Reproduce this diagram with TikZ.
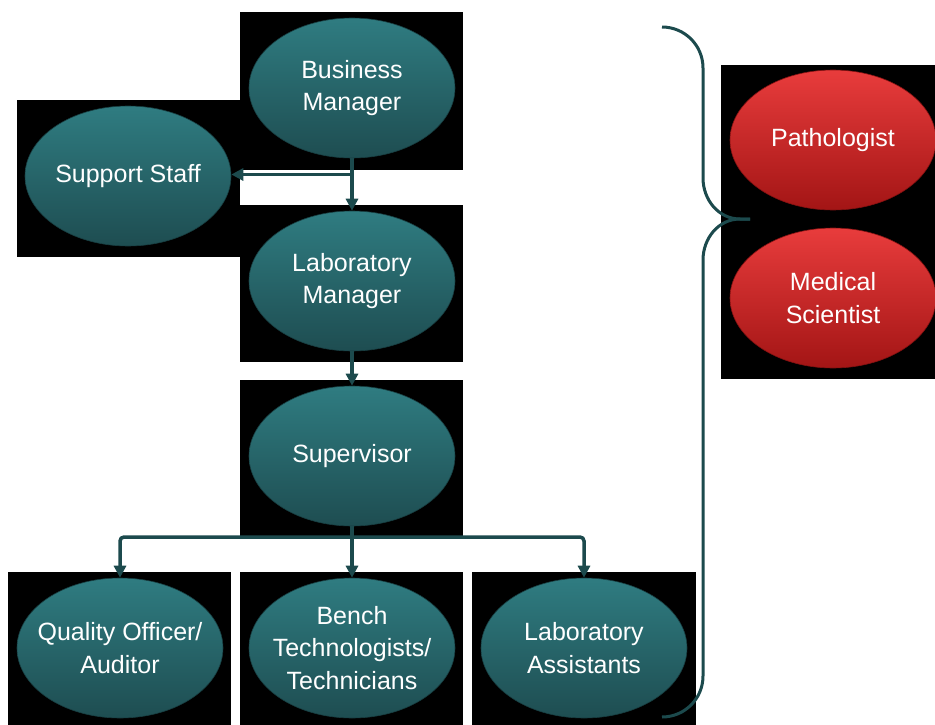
\documentclass[tikz,border=0pt]{standalone}
\usepackage{fontspec}
\setmainfont{Liberation Sans}
\usetikzlibrary{shapes.geometric,arrows.meta}
\definecolor{tealtop}{HTML}{2F7C81}
\definecolor{tealbot}{HTML}{1E4D51}
\definecolor{tealline}{HTML}{1C4A4D}
\definecolor{redtop}{HTML}{E83C3C}
\definecolor{redbot}{HTML}{A31515}
\tikzset{
  role/.style={ellipse, minimum width=206pt, minimum height=140pt, inner xsep=-30pt, inner ysep=-15pt,
    top color=tealtop, bottom color=tealbot, draw=tealbot!80!black, line width=0.6pt,
    text=white, align=center, font=\fontsize{25}{32.5}\selectfont},
  sci/.style={role, top color=redtop, bottom color=redbot, draw=redbot!80!black},
  conn/.style={draw=tealline, line width=3.5pt, -{Triangle[width=12pt,length=12pt]}},
  brace/.style={draw=tealline, line width=3pt},
  backbox/.style={fill=black}
}
\begin{document}
\begin{tikzpicture}[x=1pt,y=-1pt]
\useasboundingbox (0,0) rectangle (935,725);
\fill[white] (0,0) rectangle (935,725);
% black backgrounds
\fill[backbox] (240,12) rectangle (463,170);
\fill[backbox] (17,100) rectangle (240,257);
\fill[backbox] (240,205) rectangle (463,362);
\fill[backbox] (240,380) rectangle (463,536);
\fill[backbox] (8,572) rectangle (231,725);
\fill[backbox] (240,572) rectangle (463,725);
\fill[backbox] (472,572) rectangle (696,725);
\fill[backbox] (721,65) rectangle (935,379);
% nodes
\node[role] (bm) at (352,88) {Business\\Manager};
\node[role] (ss) at (128,176) {Support Staff};
\node[role] (lm) at (352,281) {Laboratory\\Manager};
\node[role] (sup) at (352,456) {Supervisor};
\node[role] (qa) at (120,648) {Quality Officer/\\Auditor};
\node[role] (bt) at (352,648) {Bench\\Technologists/\\Technicians};
\node[role] (la) at (584,648) {Laboratory\\Assistants};
\node[sci] (pa) at (833,140) {Pathologist};
\node[sci] (ms) at (833,298) {Medical\\Scientist};
% connectors
\coordinate (j1) at (352,174.5);
\coordinate (j2) at (352,537);
\draw[conn] (bm.south) -- (lm.north);
\draw[conn] (j1) -- (ss.east |- j1);
\draw[conn] (lm.south) -- (sup.north);
\draw[conn] (sup.south) -- (bt.north);
\draw[conn, rounded corners=4pt] (j2) -| (qa.north);
\draw[conn, rounded corners=4pt] (j2) -| (la.north);
% brace
\coordinate (bt1) at (662,27);
\coordinate (btip) at (750,219);
\coordinate (bt2) at (662,717);
\draw[brace] (bt1) to[out=0,in=90] (703,68) -- (703,178) to[out=-90,in=180] (740,219) -- (btip);
\draw[brace] (btip) -- (740,219) to[out=180,in=90] (703,260) -- (703,676) to[out=-90,in=0] (bt2);
\end{tikzpicture}
\end{document}
